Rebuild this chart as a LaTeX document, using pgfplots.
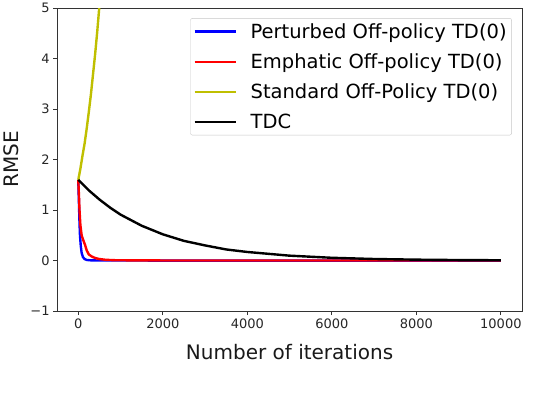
\documentclass[border=0pt]{standalone}
\usepackage{fontspec}
\setmainfont{DejaVu Sans}
\usepackage{pgfplots}
\pgfplotsset{compat=1.18}

\definecolor{mplyellow}{rgb}{0.75,0.75,0}
\definecolor{framegray}{gray}{0.2}

\begin{document}
\begin{tikzpicture}
\begin{axis}[
    scale only axis,
    width=465bp, height=303bp,
    xmin=-500, xmax=10500,
    ymin=-1, ymax=5,
    xtick={0,2000,4000,6000,8000,10000},
    ytick={-1,0,1,2,3,4,5},
    yticklabels={−1,0,1,2,3,4,5},
    scaled ticks=false,
    /pgf/number format/1000 sep={},
    /pgf/number format/assume math mode=true,
    tick align=outside,
    tick pos=left,
    major tick length=4bp,
    axis line style={framegray, line width=0.9bp},
    every tick/.style={framegray, line width=0.9bp},
    ticklabel style={font=\fontsize{13bp}{15bp}\selectfont, text=black!85},
    xlabel={Number of iterations},
    ylabel={RMSE},
    label style={font=\fontsize{20bp}{24bp}\selectfont, text=black!90},
    xlabel style={at={(axis description cs:0.5,-0.1584)}, anchor=base},
    ylabel style={at={(axis description cs:-0.0839,0.5)}, anchor=base},
    legend cell align=left,
    legend style={
        at={(axis description cs:0.978,0.967)}, anchor=north east,
        draw=black!22, rounded corners=2bp, fill=white,
        font=\fontsize{19.5bp}{23bp}\selectfont,
        row sep=10bp, column sep=12bp,
        inner xsep=3bp, inner ysep=3bp,
    },
    legend image code/.code={\draw[#1, line width=2.2bp] (0bp,0bp) -- (41bp,0bp);},
    every axis plot/.append style={line width=2.4bp, line join=round},
]

% Perturbed Off-policy TD(0)
\addplot[blue] coordinates {
    (0,1.6) (10,1.3) (20,1.0) (30,0.72) (40,0.5) (60,0.28) (80,0.15)
    (110,0.07) (150,0.03) (200,0.012) (300,0.004) (500,0.001)
    (2000,0) (10000,0)
};
% Emphatic Off-policy TD(0)
\addplot[red] coordinates {
    (0,1.6) (15,1.3) (30,0.98) (50,0.7) (80,0.5) (120,0.4) (160,0.31)
    (200,0.2) (250,0.12) (320,0.08) (400,0.05) (500,0.03) (650,0.015)
    (900,0.006) (2000,0.002) (10000,0.001)
};
% Standard Off-Policy TD(0)
\addplot[mplyellow] coordinates {
    (0,1.6) (50,1.82) (100,2.08) (150,2.32) (200,2.62) (250,2.95)
    (300,3.3) (350,3.7) (400,4.1) (450,4.55) (500,5.05) (550,5.5)
};
% TDC
\addplot[black] coordinates {
    (0,1.6) (250,1.39) (500,1.21) (750,1.05) (1000,0.91) (1500,0.69)
    (2000,0.52) (2500,0.39) (3000,0.30) (3500,0.22) (4000,0.17)
    (5000,0.097) (6000,0.055) (7000,0.031) (8000,0.018) (9000,0.010)
    (10000,0.006)
};

\legend{Perturbed Off-policy TD(0), Emphatic Off-policy TD(0),
        Standard Off-Policy TD(0), TDC}
\end{axis}
\path ([shift={(-57bp,-81bp)}]current axis.south west)
    rectangle ([shift={(36bp,4bp)}]current axis.north east);
\end{tikzpicture}
\end{document}
